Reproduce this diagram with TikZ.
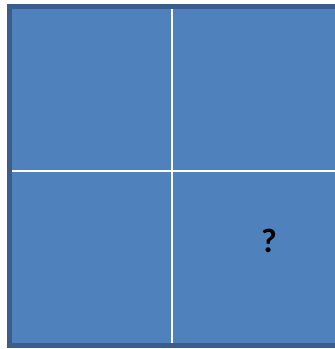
\documentclass[tikz,border=0pt]{standalone}
\usepackage{fontspec}
\setmainfont{Carlito}
\definecolor{fillblue}{HTML}{4F81BD}
\definecolor{edgeblue}{HTML}{3A5E8C}
\begin{document}
\begin{tikzpicture}[x=1bp,y=-1bp,
  divider/.style={draw=white,line width=2bp},
  qmark/.style={font=\fontsize{34}{34}\selectfont\bfseries,text=black,inner sep=0pt}]
\useasboundingbox (0,0) rectangle (335,349);
\fill[white] (0,0) rectangle (335,349);
\draw[edgeblue,fill=fillblue,line width=5bp] (9.5,6.5) rectangle (348.5,345.5);
\draw[divider] (172,9) -- (172,343);
\draw[divider] (12,171) -- (346,171);
\node[qmark] (q) at (269,241) {?};
\end{tikzpicture}
\end{document}
